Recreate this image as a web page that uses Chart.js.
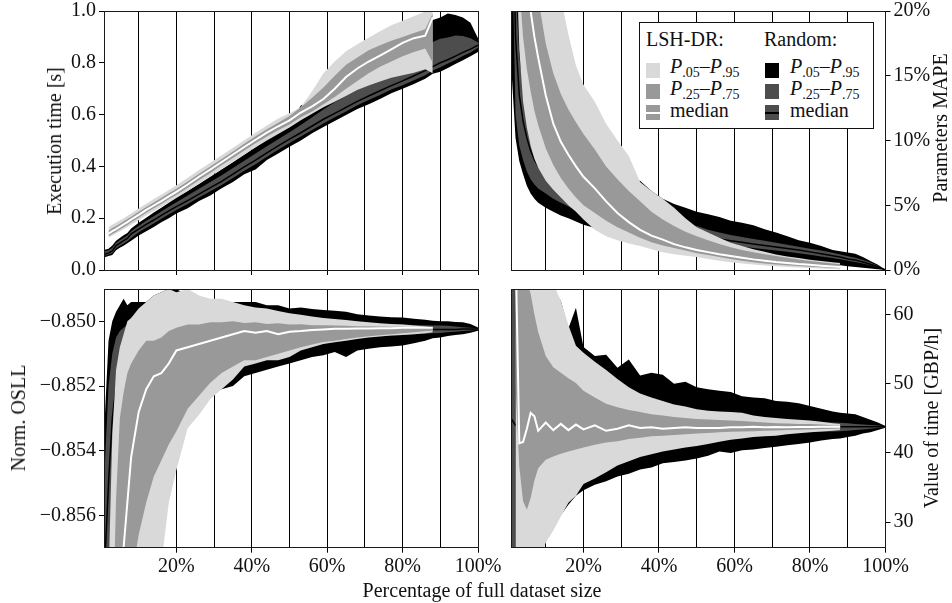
<!DOCTYPE html>
<html>
<head>
<meta charset="utf-8">
<script src="https://cdn.jsdelivr.net/npm/chart.js"></script>
<style>
  body { margin: 0; background: #fff; }
  #wrap { position: relative; width: 952px; height: 603px; overflow: hidden;
          font-family: 'Liberation Serif', 'Times New Roman', serif; color: #111; }
  canvas { position: absolute; }
  .lab { position: absolute; font-size: 20px; line-height: 20px; white-space: nowrap;
         transform: translate(-50%, -50%) rotate(-90deg); }
  .xlab { position: absolute; font-size: 20px; line-height: 20px; white-space: nowrap;
          transform: translate(-50%, -50%); }
  #legend { position: absolute; left: 639px; top: 22px; width: 235px; height: 107px;
            box-sizing: border-box; border: 1px solid #111; background: #fff; }
  #legend div { position: absolute; }
  .lt { font-size: 20px; line-height: 24px; white-space: nowrap; }
  .lt sub { font-size: 14px; vertical-align: -4px; line-height: 0; }
  .sw { width: 14px; height: 15px; }
  .sw span { position: absolute; left: 0; right: 0; top: 6.5px; height: 2px; }
</style>
</head>
<body>
<div id="wrap">
  <canvas id="tl" width="490" height="285" style="left:0;top:0"></canvas>
  <canvas id="tr" width="462" height="285" style="left:490px;top:0"></canvas>
  <canvas id="bl" width="505" height="323" style="left:0;top:280px"></canvas>
  <canvas id="br" width="462" height="323" style="left:490px;top:280px"></canvas>

  <div class="lab" style="left:54px;top:141px">Execution time [s]</div>
  <div class="lab" style="left:18px;top:418px">Norm. OSLL</div>
  <div class="lab" style="left:940px;top:128px">Parameters MAPE</div>
  <div class="lab" style="left:931px;top:418px">Value of time [GBP/h]</div>
  <div class="xlab" style="left:482px;top:590px">Percentage of full dataset size</div>

  <div id="legend">
    <div class="lt" style="left:6px;top:4px">LSH-DR:</div>
    <div class="lt" style="left:124px;top:4px">Random:</div>
    <div class="sw" style="left:6px;top:40px;background:#d9d9d9"></div>
    <div class="sw" style="left:6px;top:61px;background:#999999"></div>
    <div class="sw" style="left:6px;top:82px;background:#999999"><span style="background:#fff"></span></div>
    <div class="lt" style="left:30px;top:31px"><i>P</i><sub>.05</sub>–<i>P</i><sub>.95</sub></div>
    <div class="lt" style="left:30px;top:53px"><i>P</i><sub>.25</sub>–<i>P</i><sub>.75</sub></div>
    <div class="lt" style="left:30px;top:75px">median</div>
    <div class="sw" style="left:125px;top:40px;background:#000"></div>
    <div class="sw" style="left:125px;top:61px;background:#4d4d4d"></div>
    <div class="sw" style="left:125px;top:82px;background:#4d4d4d"><span style="background:#000"></span></div>
    <div class="lt" style="left:150px;top:31px"><i>P</i><sub>.05</sub>–<i>P</i><sub>.95</sub></div>
    <div class="lt" style="left:150px;top:53px"><i>P</i><sub>.25</sub>–<i>P</i><sub>.75</sub></div>
    <div class="lt" style="left:150px;top:75px">median</div>
  </div>
</div>
<script>
// x positions (% of full dataset size)
const pct = [0.8, 2, 3, 4, 5, 6, 7, 8,
  10, 12, 14, 16, 18, 20,
  23, 26, 29, 32, 35, 38, 41, 44, 47, 50,
  53, 56, 59, 62, 65, 68, 71, 74, 77, 80,
  83, 86, 88, 90, 92, 94, 96, 98, 100];
const xTicks = [10, 20, 30, 40, 50, 60, 70, 80, 90, 100];

// execution time [s]
const timeLshP05 = [null, 0.125, 0.133, 0.141, 0.149, 0.157, 0.166, 0.175,
  0.192, 0.210, 0.227, 0.244, 0.261, 0.278,
  0.305, 0.334, 0.362, 0.390, 0.418, 0.446, 0.474, 0.500, 0.525, 0.550,
  0.578, 0.603, 0.628, 0.650, 0.672, 0.695, 0.712, 0.728, 0.742, 0.752,
  0.762, 0.775, 0.760, null, null, null, null, null, null];
const timeLshP25 = [null, 0.130, 0.139, 0.147, 0.156, 0.165, 0.174, 0.184,
  0.202, 0.221, 0.238, 0.255, 0.273, 0.290,
  0.318, 0.347, 0.375, 0.404, 0.432, 0.461, 0.489, 0.515, 0.540, 0.562,
  0.590, 0.612, 0.640, 0.668, 0.700, 0.730, 0.760, 0.785, 0.805, 0.825,
  0.842, 0.855, 0.800, null, null, null, null, null, null];
const timeLshMed = [null, 0.140, 0.150, 0.158, 0.167, 0.176, 0.185, 0.195,
  0.213, 0.232, 0.249, 0.266, 0.284, 0.302,
  0.330, 0.360, 0.388, 0.417, 0.446, 0.475, 0.503, 0.530, 0.555, 0.578,
  0.608, 0.632, 0.660, 0.700, 0.745, 0.778, 0.805, 0.828, 0.852, 0.877,
  0.895, 0.905, 0.975, null, null, null, null, null, null];
const timeLshP75 = [null, 0.152, 0.162, 0.170, 0.179, 0.188, 0.197, 0.206,
  0.225, 0.243, 0.261, 0.278, 0.296, 0.314,
  0.342, 0.372, 0.400, 0.429, 0.458, 0.487, 0.516, 0.543, 0.569, 0.595,
  0.628, 0.665, 0.705, 0.750, 0.792, 0.820, 0.848, 0.868, 0.885, 0.900,
  0.915, 0.930, 0.990, null, null, null, null, null, null];
const timeLshP95 = [null, 0.165, 0.175, 0.183, 0.192, 0.200, 0.209, 0.218,
  0.237, 0.256, 0.274, 0.291, 0.309, 0.327,
  0.356, 0.386, 0.414, 0.443, 0.472, 0.501, 0.530, 0.558, 0.585, 0.605,
  0.628, 0.690, 0.760, 0.805, 0.845, 0.872, 0.897, 0.922, 0.945, 0.962,
  0.980, 0.998, 1.030, null, null, null, null, null, null];
const timeRndP05 = [0.048, 0.054, 0.058, 0.076, 0.086, 0.094, 0.103, 0.113,
  0.133, 0.150, 0.166, 0.184, 0.200, 0.218,
  0.238, 0.266, 0.288, 0.316, 0.340, 0.370, 0.388, 0.425, 0.450, 0.476,
  0.500, 0.528, 0.552, 0.575, 0.598, 0.622, 0.640, 0.660, 0.682, 0.700,
  0.718, 0.738, 0.758, 0.765, 0.780, 0.795, 0.810, 0.825, 0.842];
const timeRndP25 = [0.054, 0.060, 0.066, 0.084, 0.094, 0.102, 0.111, 0.124,
  0.146, 0.163, 0.180, 0.198, 0.215, 0.232,
  0.255, 0.280, 0.304, 0.328, 0.355, 0.383, 0.408, 0.437, 0.464, 0.490,
  0.515, 0.541, 0.566, 0.590, 0.612, 0.636, 0.656, 0.676, 0.697, 0.713,
  0.733, 0.752, 0.770, 0.783, 0.797, 0.811, 0.826, 0.840, 0.858];
const timeRndMed = [0.060, 0.066, 0.074, 0.094, 0.104, 0.113, 0.122, 0.140,
  0.158, 0.176, 0.193, 0.211, 0.228, 0.245,
  0.268, 0.293, 0.318, 0.342, 0.370, 0.398, 0.424, 0.452, 0.479, 0.505,
  0.530, 0.556, 0.582, 0.605, 0.628, 0.651, 0.672, 0.692, 0.712, 0.730,
  0.750, 0.770, 0.785, 0.800, 0.812, 0.826, 0.840, 0.853, 0.868];
const timeRndP75 = [0.070, 0.076, 0.085, 0.104, 0.115, 0.124, 0.133, 0.150,
  0.170, 0.190, 0.208, 0.226, 0.244, 0.262,
  0.288, 0.314, 0.340, 0.366, 0.394, 0.422, 0.450, 0.478, 0.505, 0.532,
  0.560, 0.590, 0.620, 0.648, 0.672, 0.695, 0.715, 0.735, 0.755, 0.775,
  0.800, 0.850, 0.880, 0.893, 0.898, 0.905, 0.903, 0.895, 0.878];
const timeRndP95 = [0.077, 0.082, 0.095, 0.113, 0.124, 0.134, 0.143, 0.160,
  0.182, 0.202, 0.222, 0.240, 0.260, 0.280,
  0.305, 0.332, 0.360, 0.388, 0.416, 0.445, 0.474, 0.503, 0.532, 0.560,
  0.635, 0.650, 0.660, 0.680, 0.705, 0.730, 0.755, 0.780, 0.800, 0.830,
  0.880, 0.940, 0.965, 0.975, 0.990, 0.985, 0.975, 0.955, 0.895];

// parameters MAPE [%]
const mapeLshP05 = [null, 26, 17, 13, 11, 9.6, 8.6, 7.9,
  6.9, 6.2, 5.6, 5.0, 4.5, 3.9,
  3.1, 2.6, 2.3, 2.05, 1.85, 1.6, 1.38, 1.22, 1.1, 1.0,
  0.85, 0.72, 0.6, 0.5, 0.42, 0.35, 0.29, 0.24, 0.2, 0.15,
  0.11, 0.08, 0.06, null, null, null, null, null, null];
const mapeLshP25 = [null, 30, 22, 18, 15.5, 13.8, 12.3, 11.2,
  9.4, 8.1, 7.1, 6.3, 5.6, 5.0,
  4.4, 3.8, 3.3, 2.9, 2.5, 2.15, 1.9, 1.7, 1.5, 1.3,
  1.15, 1.0, 0.85, 0.72, 0.6, 0.5, 0.42, 0.36, 0.31, 0.26,
  0.21, 0.16, 0.13, null, null, null, null, null, null];
const mapeLshMed = [null, 40, 30, 25, 22, 20, 18, 16.4,
  13.5, 11.3, 9.9, 8.9, 8.0, 7.2,
  6.3, 5.3, 4.4, 3.7, 3.1, 2.65, 2.35, 2.0, 1.75, 1.55,
  1.38, 1.22, 1.08, 0.95, 0.82, 0.72, 0.62, 0.54, 0.46, 0.4,
  0.33, 0.27, 0.23, null, null, null, null, null, null];
const mapeLshP75 = [null, 55, 42, 34, 29, 25.5, 23, 21,
  17.5, 15.2, 13.6, 12.4, 11.4, 10.5,
  9.3, 8.0, 7.0, 6.1, 5.3, 4.5, 3.9, 3.4, 2.95, 2.6,
  2.3, 2.0, 1.75, 1.55, 1.38, 1.22, 1.08, 0.95, 0.82, 0.7,
  0.6, 0.5, 0.45, null, null, null, null, null, null];
const mapeLshP95 = [null, 80, 65, 55, 48, 42, 38, 34,
  28, 24, 21, 18.2, 15.8, 14.3,
  13.0, 11.3, 10.0, 8.8, 6.8, 6.1, 5.5, 4.8, 4.0, 3.3,
  2.9, 2.5, 2.1, 1.85, 1.6, 1.4, 1.2, 1.05, 0.92, 0.8,
  0.7, 0.6, 0.55, null, null, null, null, null, null];
const mapeRndP05 = [16, 10.2, 8.4, 7.4, 6.5, 5.9, 5.5, 5.2,
  4.8, 4.5, 4.2, 4.0, 3.75, 3.5,
  3.25, 3.0, 2.8, 2.55, 2.35, 2.2, 2.0, 1.85, 1.7, 1.55,
  1.42, 1.3, 1.2, 1.1, 1.0, 0.92, 0.82, 0.74, 0.64, 0.58,
  0.5, 0.42, 0.36, 0.28, 0.24, 0.18, 0.12, 0.06, 0];
const mapeRndP25 = [30, 12, 9.6, 8.5, 7.6, 7.0, 6.6, 6.3,
  5.9, 5.5, 5.2, 4.9, 4.6, 4.3,
  4.0, 3.75, 3.5, 3.3, 3.1, 2.95, 2.8, 2.65, 2.5, 2.35,
  2.2, 2.05, 1.92, 1.82, 1.7, 1.6, 1.5, 1.4, 1.3, 1.18,
  1.05, 0.92, 0.83, 0.72, 0.62, 0.5, 0.36, 0.2, 0];
const mapeRndMed = [36, 18, 13.5, 11.5, 10.2, 9.2, 8.5, 8.0,
  7.3, 6.8, 6.3, 5.9, 5.5, 5.1,
  4.8, 4.5, 4.2, 3.95, 3.7, 3.45, 3.25, 3.05, 2.85, 2.7,
  2.55, 2.4, 2.25, 2.15, 2.0, 1.9, 1.78, 1.66, 1.54, 1.4,
  1.25, 1.1, 1.0, 0.85, 0.77, 0.62, 0.45, 0.25, 0];
const mapeRndP75 = [42, 22, 16.5, 14, 12.3, 11, 10, 9.3,
  8.6, 7.8, 7.2, 6.6, 6.2, 5.8,
  5.4, 5.1, 4.8, 4.5, 4.25, 4.0, 3.8, 3.65, 3.5, 3.4,
  3.1, 2.9, 2.7, 2.55, 2.4, 2.25, 2.1, 1.95, 1.8, 1.65,
  1.5, 1.33, 1.2, 1.07, 0.95, 0.78, 0.58, 0.32, 0];
const mapeRndP95 = [50, 30, 22, 19, 17, 15.5, 14.3, 13.3,
  11.8, 10.6, 9.8, 9.1, 8.5, 8.0,
  7.6, 7.3, 7.0, 6.9, 6.9, 6.1, 5.5, 5.1, 4.8, 4.5,
  4.3, 4.1, 3.8, 3.65, 3.45, 3.15, 2.9, 2.6, 2.3, 2.1,
  1.85, 1.55, 1.45, 1.35, 1.25, 1.0, 0.7, 0.4, 0];

// normalised OSLL
const osllLshP05 = [null, -0.880, -0.876, -0.873, -0.870, -0.868, -0.866, -0.865,
  -0.863, -0.8615, -0.8600, -0.8575, -0.8556, -0.8546,
  -0.8533, -0.8529, -0.8524, -0.8521, -0.8518, -0.8514, -0.8513, -0.8512, -0.8512, -0.8511,
  -0.8509, -0.8508, -0.8507, -0.85065, -0.8506, -0.85055, -0.8505, -0.85047, -0.85044, -0.85042,
  -0.8504, -0.85037, -0.85034, null, null, null, null, null, null];
const osllLshP25 = [null, -0.872, -0.868, -0.865, -0.863, -0.861, -0.8595, -0.858,
  -0.8566, -0.8556, -0.8548, -0.8543, -0.8538, -0.8534,
  -0.8527, -0.8523, -0.8519, -0.8516, -0.8514, -0.8512, -0.8512, -0.8511, -0.8510, -0.8509,
  -0.8508, -0.85072, -0.85064, -0.8506, -0.85055, -0.8505, -0.85046, -0.85043, -0.8504, -0.85037,
  -0.85034, -0.85031, -0.85029, null, null, null, null, null, null];
const osllLshMed = [null, -0.870, -0.866, -0.862, -0.859, -0.857, -0.8556, -0.8542,
  -0.8528, -0.8521, -0.8517, -0.8516, -0.8513, -0.8509,
  -0.8508, -0.8507, -0.8506, -0.8505, -0.8504, -0.8503, -0.85035, -0.8503, -0.8504, -0.85032,
  -0.8503, -0.85027, -0.85025, -0.85023, -0.85023, -0.85022, -0.85022, -0.85021, -0.85021, -0.8502,
  -0.8502, -0.8502, -0.8502, null, null, null, null, null, null];
const osllLshP75 = [null, -0.866, -0.860, -0.8555, -0.8530, -0.8522, -0.8516, -0.8513,
  -0.8509, -0.8506, -0.8506, -0.8505, -0.8503, -0.8502,
  -0.8501, -0.8501, -0.85003, -0.85003, -0.8500, -0.85005, -0.85003, -0.85008, -0.85006, -0.8501,
  -0.85009, -0.85012, -0.85012, -0.85013, -0.85014, -0.85015, -0.85015, -0.85016, -0.85017, -0.85017,
  -0.85018, -0.85019, -0.85019, null, null, null, null, null, null];
const osllLshP95 = [null, -0.858, -0.8535, -0.8515, -0.8508, -0.8504, -0.8500, -0.8499,
  -0.8496, -0.8494, -0.8492, -0.8491, -0.8490, -0.8491,
  -0.8490, -0.8492, -0.8493, -0.8493, -0.8494, -0.8495, -0.84957, -0.8496, -0.84968, -0.84975,
  -0.8498, -0.84985, -0.8499, -0.84993, -0.84996, -0.8500, -0.85003, -0.85006, -0.85008, -0.8501,
  -0.85013, -0.85016, -0.85018, null, null, null, null, null, null];
const osllRndP05 = [-0.870, -0.866, -0.862, -0.860, -0.859, -0.858, -0.8575, -0.857,
  -0.8562, -0.8555, -0.8548, -0.8542, -0.8537, -0.8533,
  -0.8528, -0.8524, -0.8522, -0.8521, -0.8520, -0.8517, -0.8516, -0.8515, -0.8514, -0.8513,
  -0.8512, -0.8511, -0.85105, -0.85095, -0.8511, -0.8509, -0.85085, -0.8508, -0.85078, -0.85075,
  -0.85068, -0.8506, -0.85052, -0.8505, -0.85045, -0.85042, -0.8504, -0.85035, -0.85029];
const osllRndP25 = [-0.862, -0.858, -0.856, -0.8545, -0.8535, -0.853, -0.8527, -0.8524,
  -0.8521, -0.8518, -0.8516, -0.8515, -0.8514, -0.8513,
  -0.8512, -0.8511, -0.8510, -0.8509, -0.85085, -0.8508, -0.85078, -0.85075, -0.8507, -0.85065,
  -0.85062, -0.8506, -0.85057, -0.85055, -0.85052, -0.8505, -0.85048, -0.85046, -0.85044, -0.85042,
  -0.8504, -0.85038, -0.85037, -0.85036, -0.85034, -0.85032, -0.8503, -0.85028, -0.85026];
const osllRndMed = [-0.858, -0.855, -0.853, -0.852, -0.8515, -0.8512, -0.8511, -0.8509,
  -0.8508, -0.8507, -0.8506, -0.8505, -0.8505, -0.8504,
  -0.8504, -0.85038, -0.85036, -0.85035, -0.85035, -0.85034, -0.85033, -0.85032, -0.85031, -0.8503,
  -0.8503, -0.85029, -0.85029, -0.85028, -0.85028, -0.85028, -0.85027, -0.85027, -0.85027, -0.85026,
  -0.85026, -0.85026, -0.85025, -0.85025, -0.85025, -0.85025, -0.85024, -0.85024, -0.85024];
const osllRndP75 = [-0.855, -0.8520, -0.8510, -0.8505, -0.8503, -0.8502, -0.8501, -0.8500,
  -0.8500, -0.8499, -0.8499, -0.8499, -0.8499, -0.8499,
  -0.8499, -0.84995, -0.84995, -0.84997, -0.84998, -0.8500, -0.8500, -0.85002, -0.85003, -0.85003,
  -0.85004, -0.85005, -0.85005, -0.85006, -0.85007, -0.85008, -0.85009, -0.8501, -0.8501, -0.8501,
  -0.85011, -0.85012, -0.85013, -0.85013, -0.85014, -0.85016, -0.85018, -0.8502, -0.85022];
const osllRndP95 = [-0.8535, -0.8506, -0.8500, -0.8497, -0.8495, -0.8493, -0.8495, -0.8494,
  -0.8494, -0.8494, -0.8492, -0.8491, -0.8490, -0.8490,
  -0.8492, -0.8493, -0.8494, -0.8494, -0.8494, -0.8494, -0.8494, -0.8495, -0.8495, -0.8496,
  -0.84957, -0.84962, -0.84965, -0.84967, -0.8497, -0.84978, -0.84982, -0.84985, -0.84987, -0.84988,
  -0.84992, -0.84995, -0.84998, -0.85, -0.85, -0.85002, -0.85003, -0.85008, -0.85019];

// value of time [GBP/h]
const votLshP05 = [null, 10, 14, 16, 18, 20, 22, 24,
  27, 28.8, 30.8, 32.8, 33.8, 35.5,
  36.3, 37.2, 38.2, 38.8, 39.4, 39.8, 40.2, 40.5, 40.8, 41.0,
  41.3, 41.6, 41.9, 42.1, 42.3, 42.4, 42.5, 42.7, 42.85, 43.0,
  43.1, 43.2, 43.3, null, null, null, null, null, null];
const votLshP25 = [null, 50, 38, 33, 31.8, 33.5, 36, 37.8,
  39.0, 39.5, 39.9, 40.2, 40.5, 40.8,
  41.2, 41.5, 41.7, 42.0, 42.2, 42.4, 42.5, 42.6, 42.7, 42.8,
  42.9, 43.0, 43.05, 43.1, 43.15, 43.2, 43.25, 43.3, 43.35, 43.4,
  43.45, 43.5, 43.55, null, null, null, null, null, null];
const votLshMed = [null, 70, 41.4, 41.6, 43.5, 45.8, 45.3, 43.2,
  44.4, 43.3, 44.2, 43.3, 44.1, 43.4,
  44.0, 43.2, 43.5, 44.0, 43.6, 43.7, 43.5, 43.6, 43.7, 43.6,
  43.6, 43.6, 43.7, 43.7, 43.8, 43.7, 43.75, 43.7, 43.75, 43.75,
  43.8, 43.8, 43.8, null, null, null, null, null, null];
const votLshP75 = [null, 80, 72, 68, 65, 63, 60, 57.5,
  54, 52.4, 51.6, 50.8, 50.1, 49.0,
  48.0, 47.1, 46.6, 46.2, 45.9, 45.6, 45.4, 45.2, 45.05, 44.9,
  44.85, 44.75, 44.7, 44.6, 44.5, 44.4, 44.3, 44.25, 44.2, 44.2,
  44.1, 44.0, 43.95, null, null, null, null, null, null];
const votLshP95 = [null, 90, 85, 80, 75, 72, 70, 68,
  66, 64.5, 62, 58.5, 55.5, 54.5,
  53.2, 52.0, 50.7, 49.5, 48.6, 48.0, 47.5, 47.0, 46.7, 46.3,
  46.1, 46.0, 45.9, 45.8, 45.4, 45.2, 45.05, 44.9, 44.8, 44.7,
  44.5, 44.3, 44.2, null, null, null, null, null, null];
const votRndP05 = [10, 14, 17, 20, 22, 24, 25, 26,
  28, 29.5, 31, 32.5, 33.8, 34.6,
  35.4, 35.9, 36.6, 37.0, 37.6, 37.9, 38.5, 38.7, 38.9, 39.2,
  39.6, 40.2, 40.0, 40.4, 40.5, 40.7, 40.9, 41.1, 41.3, 41.5,
  41.8, 42.0, 42.1, 42.3, 42.5, 42.8, 43.0, 43.3, 43.65];
const votRndP25 = [20, 25, 29, 31, 33, 34.5, 35.5, 36,
  37, 38, 38.6, 39.0, 39.4, 39.8,
  40.2, 40.5, 40.9, 41.2, 41.4, 41.6, 41.8, 41.9, 42.0, 42.2,
  42.3, 42.4, 42.5, 42.6, 42.7, 42.75, 42.8, 42.9, 42.95, 43.0,
  43.05, 43.1, 43.15, 43.2, 43.3, 43.4, 43.5, 43.6, 43.72];
const votRndMed = [45, 44, 43.8, 43.8, 43.7, 43.8, 43.8, 43.7,
  43.8, 43.7, 43.8, 43.8, 43.7, 43.8,
  43.8, 43.7, 43.8, 43.8, 43.8, 43.7, 43.8, 43.8, 43.8, 43.8,
  43.8, 43.8, 43.8, 43.8, 43.8, 43.8, 43.8, 43.8, 43.8, 43.8,
  43.8, 43.8, 43.8, 43.8, 43.8, 43.8, 43.8, 43.8, 43.8];
const votRndP75 = [75, 68, 60, 57, 55, 53, 52, 51,
  50, 49, 48.6, 48.2, 47.8, 47.5,
  47.2, 46.9, 46.6, 46.4, 46.2, 46.0, 45.8, 45.7, 45.5, 45.3,
  45.2, 45.1, 45.0, 44.9, 44.85, 44.8, 44.7, 44.65, 44.6, 44.5,
  44.45, 44.4, 44.35, 44.3, 44.2, 44.1, 44.05, 43.95, 43.85];
const votRndP95 = [80, 75, 72, 70, 68, 67, 66, 65.5,
  64.5, 63.5, 62, 58, 61, 55.3,
  54.0, 54.2, 52.3, 53.5, 51.2, 51.6, 51.3, 50.0, 50.3, 49.5,
  49.2, 49.0, 48.8, 48.2, 48.0, 47.9, 47.5, 47.4, 47.2, 46.8,
  46.4, 46.0, 45.8, 45.7, 45.6, 45.2, 44.8, 44.4, 43.9];

const yTicksTime = [0, 0.2, 0.4, 0.6, 0.8, 1.0];
const yTicksMape = [0, 5, 10, 15, 20];
const yTicksOsll = [-0.856, -0.854, -0.852, -0.850];
const yTicksVot = [30, 40, 50, 60];

const lightGray = '#d9d9d9', midGray = '#999999', darkGray = '#4d4d4d';

Chart.defaults.font.family = "'Liberation Serif', 'Times New Roman', serif";
Chart.defaults.font.size = 20;
Chart.defaults.color = '#111';

function pts(arr) {
  return pct.map((x, i) => ({x: x, y: arr[i]}));
}
function edge(arr, color) {
  return {data: pts(arr), borderColor: 'rgba(0,0,0,0)', borderWidth: 0, pointRadius: 0,
          fill: color ? '+1' : false, backgroundColor: color || 'rgba(0,0,0,0)'};
}
function line(arr, color, w) {
  return {data: pts(arr), borderColor: color, borderWidth: w, pointRadius: 0, fill: false};
}
// first dataset is drawn on top: LSH-DR over Random
function bandSets(l05, l25, lm, l75, l95, r05, r25, rm, r75, r95) {
  return [
    line(lm, '#fff', 2),
    edge(l75, midGray), edge(l25),
    edge(l95, lightGray), edge(l05),
    line(rm, '#000', 1.5),
    edge(r75, darkGray), edge(r25),
    edge(r95, '#000'), edge(r05)
  ];
}

const frame = {
  id: 'frame',
  afterDatasetsDraw(chart) {
    const a = chart.chartArea, ctx = chart.ctx;
    const l = Math.floor(a.left) + 0.5, t = Math.floor(a.top) + 0.5;
    const r = Math.floor(a.right) + 0.5, b = Math.floor(a.bottom) + 0.5;
    ctx.save();
    ctx.strokeStyle = '#1a1a1a';
    ctx.lineWidth = 1;
    ctx.strokeRect(l, t, r - l, b - t);
    ctx.restore();
  }
};

function panel(id, sets, cfg) {
  new Chart(document.getElementById(id), {
    type: 'line',
    data: {datasets: sets},
    options: {
      animation: false,
      responsive: false,
      devicePixelRatio: 1,
      layout: {padding: cfg.pad},
      elements: {line: {tension: 0}},
      plugins: {legend: {display: false}, tooltip: {enabled: false}},
      scales: {
        x: {
          type: 'linear', min: 0.8, max: 100, bounds: 'data',
          afterBuildTicks: s => { s.ticks = xTicks.map(v => ({value: v})); },
          afterFit: s => { s.height = cfg.xh; s.paddingLeft = 0; s.paddingRight = 0; },
          border: {display: false},
          grid: {
            color: '#000', lineWidth: 1, tickLength: 5,
            tickColor: c => (c.tick && c.tick.value % 20 === 0) ? '#000' : 'rgba(0,0,0,0)'
          },
          ticks: {
            autoSkip: false, maxRotation: 0, padding: 2,
            callback: v => (cfg.xlabels && v % 20 === 0) ? v + '%' : ''
          }
        },
        y: {
          type: 'linear', position: cfg.right ? 'right' : 'left',
          min: cfg.min, max: cfg.max, bounds: 'data',
          afterBuildTicks: s => { s.ticks = cfg.ticks.map(v => ({value: v})); },
          afterFit: s => { s.width = cfg.yw; s.paddingTop = 0; s.paddingBottom = 0; },
          border: {display: false},
          grid: {drawOnChartArea: false, tickLength: 5, tickColor: '#000'},
          ticks: {padding: 3, callback: cfg.fmt}
        }
      }
    },
    plugins: [frame]
  });
}

panel('tl', bandSets(timeLshP05, timeLshP25, timeLshMed, timeLshP75, timeLshP95,
                     timeRndP05, timeRndP25, timeRndMed, timeRndP75, timeRndP95),
  {pad: {top: 11, left: 0, right: 12, bottom: 0}, xh: 15, xlabels: false, right: false, yw: 104,
   min: 0, max: 1, ticks: yTicksTime, fmt: v => v.toFixed(1)});

panel('tr', bandSets(mapeLshP05, mapeLshP25, mapeLshMed, mapeLshP75, mapeLshP95,
                     mapeRndP05, mapeRndP25, mapeRndMed, mapeRndP75, mapeRndP95),
  {pad: {top: 11, left: 21, right: 0, bottom: 0}, xh: 15, xlabels: false, right: true, yw: 66.5,
   min: 0, max: 20, ticks: yTicksMape, fmt: v => v + '%'});

panel('bl', bandSets(osllLshP05, osllLshP25, osllLshMed, osllLshP75, osllLshP95,
                     osllRndP05, osllRndP25, osllRndMed, osllRndP75, osllRndP95),
  {pad: {top: 9, left: 0, right: 27, bottom: 0}, xh: 55.3, xlabels: true, right: false, yw: 104,
   min: -0.857, max: -0.849, ticks: yTicksOsll, fmt: v => '\u2212' + Math.abs(v).toFixed(3)});

panel('br', bandSets(votLshP05, votLshP25, votLshMed, votLshP75, votLshP95,
                     votRndP05, votRndP25, votRndMed, votRndP75, votRndP95),
  {pad: {top: 9, left: 21, right: 0, bottom: 0}, xh: 55.3, xlabels: true, right: true, yw: 66.5,
   min: 26.3, max: 63.7, ticks: yTicksVot, fmt: v => String(v)});
</script>
</body>
</html>
